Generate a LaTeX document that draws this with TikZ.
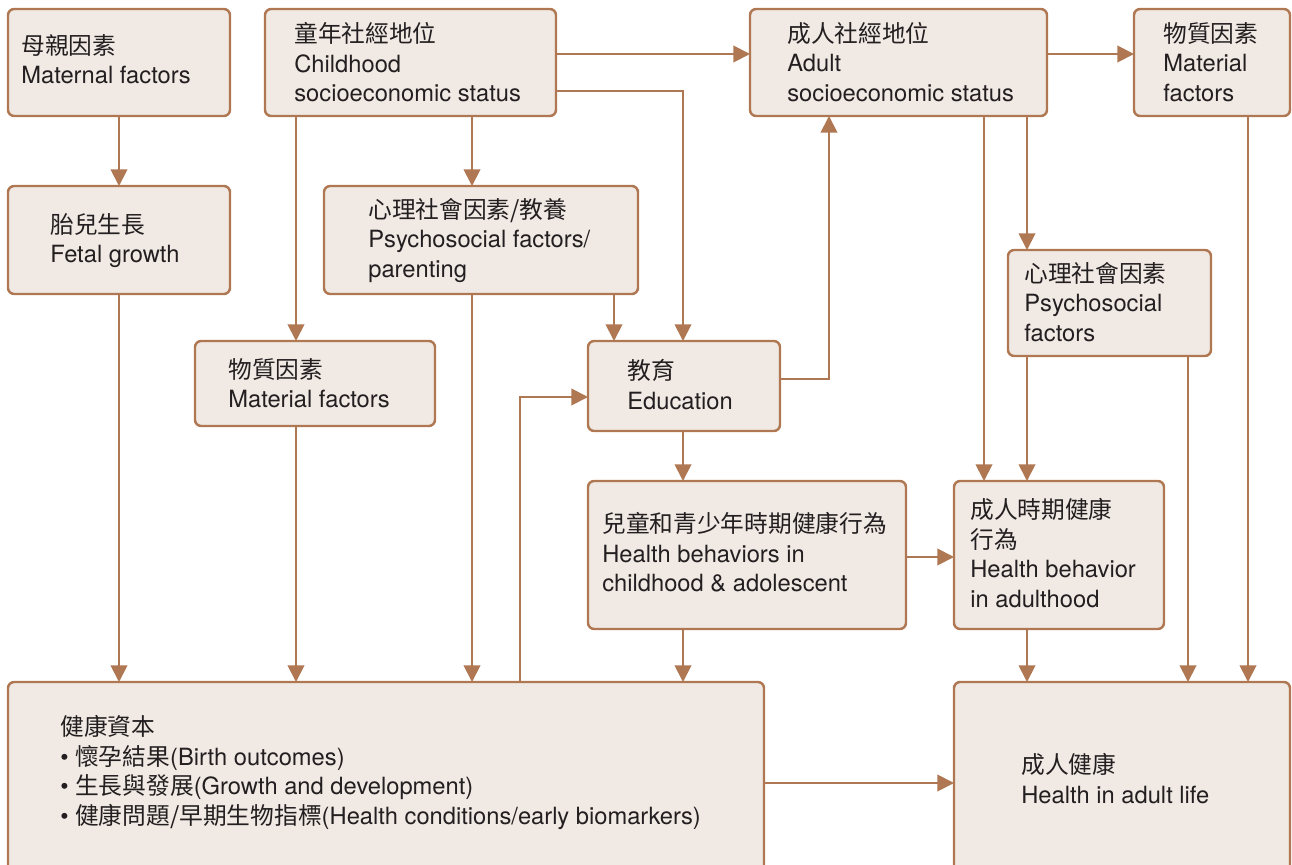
\documentclass[tikz,border=0pt]{standalone}
\usepackage{fontspec}
\setmainfont{TeX Gyre Heros}
\newfontfamily\cjk{Noto Sans CJK TC}
\usetikzlibrary{arrows.meta}
\definecolor{boxbrown}{HTML}{B07852}
\definecolor{boxfill}{HTML}{F0E9E4}
\definecolor{txtgray}{HTML}{231F20}
\tikzset{
box/.style={draw=boxbrown, fill=boxfill, line width=1.4pt, rounded corners=3.5pt, inner sep=0pt, outer sep=0pt},
boxtxt/.style={anchor=north west, align=left, inner sep=0pt, text=txtgray, font=\fontsize{13.5pt}{16.8pt}\selectfont},
arr/.style={draw=boxbrown, line width=1.1pt, -{Triangle[length=9.5pt,width=9.5pt]}}
}
\newcommand{\drawbox}[5]{%
\node[box, minimum width={(#4-#2)*0.02cm}, minimum height={(#5-#3)*0.02cm}] (#1) at ({(#2+#4)/2},{(#3+#5)/2}) {};
}
\newcommand{\boxtext}[4]{%
\node[boxtxt] (#3) at (#1,#2) {#4};
}

\begin{document}
\begin{tikzpicture}[x=0.02cm, y=-0.02cm]

\useasboundingbox (0,0) rectangle (1292,865);
\clip (0,0) rectangle (1292,865);

% boxes
\drawbox{mat}{8}{9}{230}{116}
\drawbox{chses}{265}{9}{556}{116}
\drawbox{adses}{750}{9}{1047}{116}
\drawbox{matA}{1134}{9}{1290}{116}

\drawbox{fet}{8}{186}{230}{294}
\drawbox{psyc}{324}{186}{638}{294}
\drawbox{matC}{195}{341}{435}{426}
\drawbox{edu}{588}{341}{780}{431}
\drawbox{psyA}{1008}{250}{1211}{356}

\drawbox{hbC}{588}{481}{906}{629}
\drawbox{hbA}{954}{481}{1164}{629}

\drawbox{cap}{8}{682}{764}{900}
\drawbox{hlth}{954}{682}{1290}{900}

% texts
\boxtext{21}{34}{matT}{{\cjk 母親因素}\\Maternal factors}
\boxtext{294}{22}{chsesT}{{\cjk 童年社經地位}\\Childhood\\socioeconomic status}
\boxtext{787}{22}{adsesT}{{\cjk 成人社經地位}\\Adult\\socioeconomic status}
\boxtext{1163}{22}{matAT}{{\cjk 物質因素}\\Material\\factors}

\boxtext{50}{213}{fetT}{{\cjk 胎兒生長}\\Fetal growth}
\boxtext{368}{198}{psycT}{{\cjk 心理社會因素/教養}\\Psychosocial factors/\\parenting}
\boxtext{228}{358}{matCT}{{\cjk 物質因素}\\Material factors}
\boxtext{627}{359}{eduT}{{\cjk 教育}\\Education}
\boxtext{1024}{262}{psyAT}{{\cjk 心理社會因素}\\Psychosocial\\factors}

\boxtext{602}{512}{hbCT}{{\cjk 兒童和青少年時期健康行為}\\Health behaviors in\\childhood \& adolescent}
\boxtext{970}{498}{hbAT}{{\cjk 成人時期健康}\\{\cjk 行為}\\Health behavior\\in adulthood}

\boxtext{60}{715}{capT}{{\cjk 健康資本}\\
\textbullet\ {\cjk 懷孕結果}(Birth outcomes)\\
\textbullet\ {\cjk 生長與發展}(Growth and development)\\
\textbullet\ {\cjk 健康問題/早期生物指標}(Health conditions/early biomarkers)}
\boxtext{1021}{753}{hlthT}{{\cjk 成人健康}\\Health in adult life}

% arrows
\draw[arr] (119,0 |- mat.south) -- (119,0 |- fet.north);
\draw[arr] (119,0 |- fet.south) -- (119,0 |- cap.north);

\draw[arr] (chses.east |- 0,54) -- (adses.west |- 0,54);
\draw[arr] (chses.east |- 0,91) -| (683,0 |- edu.north);
\draw[arr] (296,0 |- chses.south) -- (296,0 |- matC.north);
\draw[arr] (472,0 |- chses.south) -- (472,0 |- psyc.north);

\draw[arr] (614,0 |- psyc.south) -- (614,0 |- edu.north);
\draw[arr] (472,0 |- psyc.south) -- (472,0 |- cap.north);
\draw[arr] (296,0 |- matC.south) -- (296,0 |- cap.north);
\draw[arr] (520,0 |- cap.north) |- (edu.west |- 0,397);

\draw[arr] (edu.east |- 0,379) -| (829,0 |- adses.south);
\draw[arr] (683,0 |- edu.south) -- (683,0 |- hbC.north);
\draw[arr] (683,0 |- hbC.south) -- (683,0 |- cap.north);
\draw[arr] (hbC.east |- 0,557) -- (hbA.west |- 0,557);

\draw[arr] (adses.east |- 0,54) -- (matA.west |- 0,54);
\draw[arr] (984,0 |- adses.south) -- (984,0 |- hbA.north);
\draw[arr] (1027,0 |- adses.south) -- (1027,0 |- psyA.north);
\draw[arr] (1027,0 |- psyA.south) -- (1027,0 |- hbA.north);
\draw[arr] (1188,0 |- psyA.south) -- (1188,0 |- hlth.north);
\draw[arr] (1248,0 |- matA.south) -- (1248,0 |- hlth.north);
\draw[arr] (1027,0 |- hbA.south) -- (1027,0 |- hlth.north);
\draw[arr] (cap.east |- 0,783) -- (hlth.west |- 0,783);

\end{tikzpicture}
\end{document}
